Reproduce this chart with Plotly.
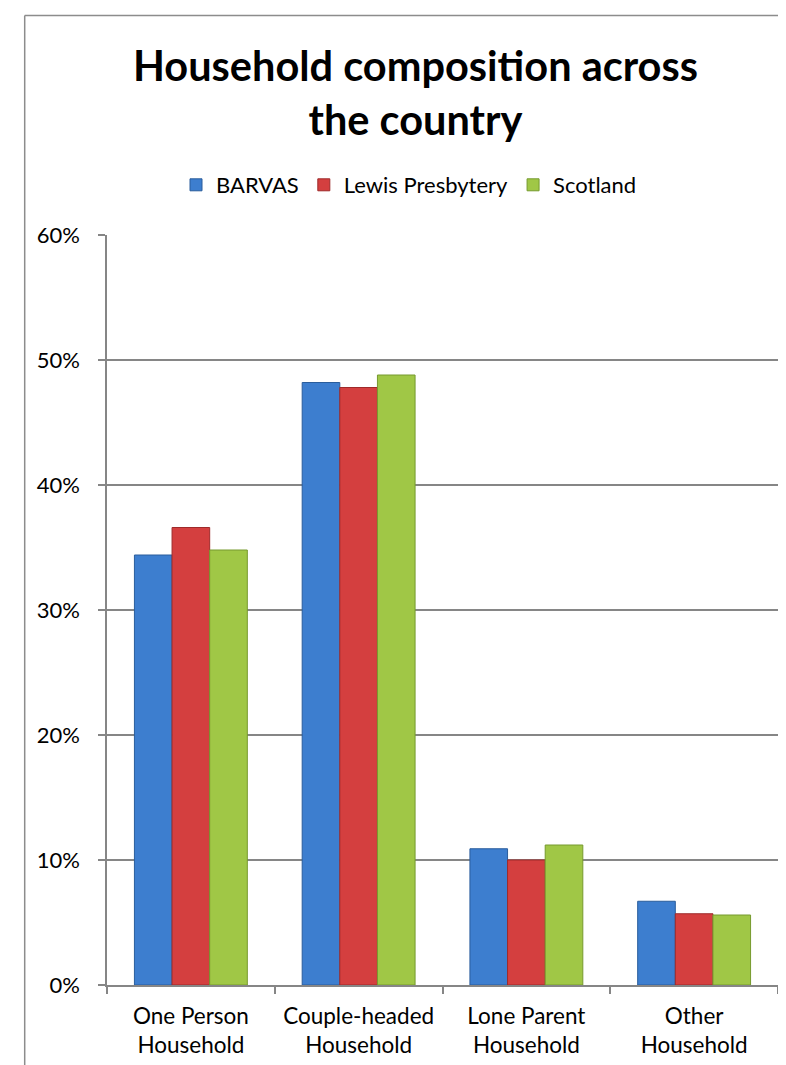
import plotly.graph_objects as go

categories = ["One Person<br>Household", "Couple-headed<br>Household",
              "Lone Parent<br>Household", "Other<br>Household"]
barvas = [0.344, 0.482, 0.109, 0.067]
lewis = [0.366, 0.478, 0.100, 0.057]
scotland = [0.348, 0.488, 0.112, 0.056]
series_names = ["BARVAS", "Lewis Presbytery", "Scotland"]
y_ticks = [0, 0.1, 0.2, 0.3, 0.4, 0.5, 0.6]
title_text = "<b>Household composition across<br>the country</b>"

FONT = "Lato"
W, H = 786, 1065
L, R, T, B = 99, 16, 227, 88
pw, ph = W - L - R, H - T - B

def px_x(p):
    return (p - L) / pw

def px_y(p):
    return (H - B - p) / ph

fig = go.Figure()
colors = ["#3D7ECF", "#D43F3F", "#A0C746"]
edges = ["#2A5D9C", "#9E2A2A", "#769A2E"]
for name, vals, c, e in zip(series_names, [barvas, lewis, scotland], colors, edges):
    fig.add_trace(go.Bar(
        x=categories, y=vals, name=name,
        marker=dict(color=c, line=dict(color=e, width=1)),
    ))

fig.update_layout(
    width=W, height=H,
    margin=dict(l=L, r=R, t=T, b=B),
    paper_bgcolor="white", plot_bgcolor="white",
    barmode="group", bargap=0.327, bargroupgap=0,
    font=dict(family=FONT, color="black", size=22),
    legend=dict(
        orientation="h", x=401 / W, xref="container", xanchor="center",
        y=1 - 177 / H, yref="container", yanchor="middle",
        font=dict(family=FONT, size=22, color="black"),
        traceorder="normal",
    ),
    showlegend=True,
)

fig.add_annotation(
    text=title_text, xref="paper", yref="paper",
    x=px_x(407), y=px_y(84), xanchor="center", yanchor="middle",
    showarrow=False, font=dict(family=FONT, size=41.5, color="black"),
)

fig.update_yaxes(
    range=[0, 0.6], tickvals=y_ticks, tickformat=".0%",
    showgrid=True, gridcolor="#868686", gridwidth=1.5,
    showline=True, linecolor="#868686", linewidth=1.5,
    ticks="outside", ticklen=7, tickcolor="#868686", tickwidth=1.5,
    zeroline=False, ticklabelstandoff=14,
    tickfont=dict(family=FONT, size=22, color="black"),
)
fig.update_xaxes(
    showline=True, linecolor="#868686", linewidth=1.5,
    ticks="outside", ticklen=7, tickcolor="#868686", tickwidth=1.5,
    tickson="boundaries", ticklabelstandoff=10,
    tickfont=dict(family=FONT, size=22.5, color="black"),
)

# chart-area frame (left and top edges)
fig.add_shape(type="line", xref="paper", yref="paper",
              x0=px_x(16.7), x1=px_x(16.7), y0=px_y(H + 5), y1=px_y(7.5),
              line=dict(color="#8C8C8C", width=1.5))
fig.add_shape(type="line", xref="paper", yref="paper",
              x0=px_x(16.7), x1=px_x(W + 5), y0=px_y(7.5), y1=px_y(7.5),
              line=dict(color="#8C8C8C", width=1.5))

fig.write_html("out.html")
